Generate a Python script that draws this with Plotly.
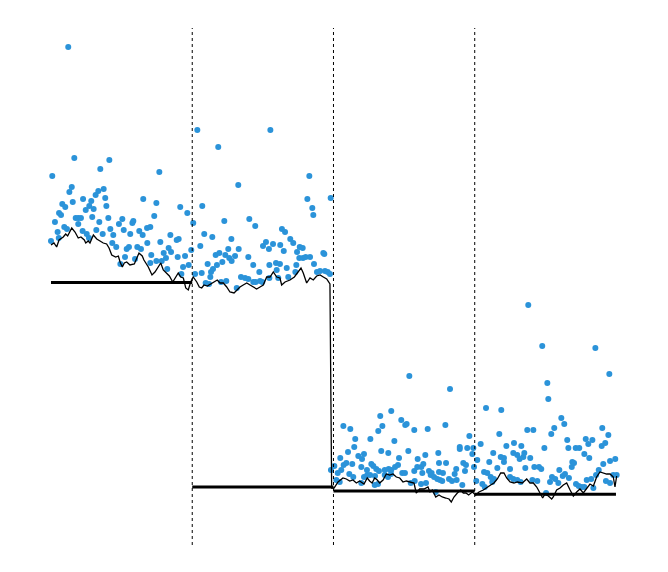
import plotly.graph_objects as go

# observations (time index, value)
obs_t = [
    0, 0.9, 2.8, 4.7, 5.5, 5.7, 7.1, 8.0, 9.4, 10.1, 11.3, 12.2, 13.0, 14.7, 15.4, 16.5,
    17.5, 19.3, 19.3, 21.2, 22.4, 22.7, 24.6, 25.3, 26.9, 27.1, 28.5, 29.2, 30.2, 31.6,
    32.1, 33.5, 34.2, 34.9, 36.6, 37.3, 38.4, 39.2, 40.6, 41.3, 42.0, 43.4, 44.1, 46.2,
    48.1, 49.1, 50.5, 51.5, 52.4, 53.6, 55.2, 56.1, 57.6, 58.3, 59.5, 61.1, 62.5, 63.7,
    65.3, 64.9, 68.0, 68.2, 70.3, 70.3, 71.0, 73.1, 74.6, 74.6, 76.7, 77.4, 78.4, 79.8,
    81.4, 82.3, 83.3, 84.5, 85.0, 89.0, 89.7, 90.4, 91.5, 92.3, 93.5, 94.9, 96.5, 97.5,
    99.3, 100.7, 102.0, 103.6, 105.7, 106.7, 107.1, 108.5, 109.5, 110.9, 111.9, 112.8,
    113.3, 114.2, 114.7, 116.6, 117.5, 118.4, 119.2, 120.4, 121.3, 122.7, 123.4, 124.1,
    125.5, 126.2, 127.7, 127.9, 130.3, 131.5, 132.6, 132.9, 134.5, 137.4, 139.7, 139.7,
    140.4, 143.2, 143.2, 144.6, 144.9, 147.5, 148.0, 149.6, 150.1, 152.2, 154.3, 154.6,
    154.6, 155.3, 157.2, 159.3, 159.8, 160.9, 162.1, 162.3, 163.5, 164.8, 165.7, 166.9,
    168.0, 169.4, 171.5, 173.0, 173.7, 174.2, 175.8, 176.1, 178.2, 178.4, 180.3, 181.5,
    182.9, 183.4, 185.0, 185.7, 186.2, 188.3, 190.5, 192.8, 193.5, 194.0, 195.9, 197.5,
    198.0,
    198.2, 200.6, 202.0, 203.0, 204.4, 204.8, 205.5, 207.0, 207.2, 209.1, 210.3, 211.2,
    211.9, 213.3, 214.0, 214.7, 215.4, 217.6, 219.7, 219.7, 220.2, 221.6, 221.6, 223.7,
    223.9, 225.9, 226.1, 226.8, 228.2, 229.2, 229.4, 230.3, 231.5, 231.7, 232.2, 233.1,
    233.8, 234.6, 236.3, 236.3, 238.6, 238.8, 239.1, 240.7, 240.9, 240.9, 243.1, 243.6,
    245.7, 246.4, 248.0, 248.7, 250.6, 250.8, 251.8, 253.0, 253.7, 254.7, 257.2, 257.2,
    257.5, 259.3, 259.6, 262.0, 262.2, 262.9, 263.6, 265.0, 265.5, 266.7,
    267.6, 268.8, 269.5, 271.2, 272.4, 273.5, 274.2, 274.7, 274.7, 275.4, 277.0, 277.5,
    279.2, 279.7, 281.8, 282.5, 283.9, 285.8, 286.9, 287.2, 289.4, 289.4, 291.2, 291.9,
    293.1, 293.8, 294.7, 296.2, 298.3, 299.0, 299.5, 301.1, 301.8, 304.2, 305.4, 306.6,
    307.1, 308.0, 308.9, 310.3, 311.3, 312.4, 313.1, 313.6, 316.0, 317.4, 318.4, 318.8,
    320.7, 320.7, 322.4, 325.0, 325.0, 327.3, 327.3, 327.8, 330.1, 330.1, 331.8, 332.5,
    333.0,
    334.4, 335.1, 335.8, 337.2, 337.9, 339.3, 340.8, 341.5, 342.2, 344.3, 345.5, 347.1,
    347.8, 349.3, 350.5, 351.4, 352.1, 353.3, 354.2, 354.7, 356.3, 357.0, 359.2, 359.9,
    361.3, 362.3, 363.4, 363.9, 365.5, 366.3, 366.7, 368.7, 369.1, 370.3, 371.5, 371.7,
    373.6, 374.0, 375.7, 377.6, 377.6, 378.6, 379.3, 380.4, 381.1, 382.5, 383.3, 384.0,
    385.4, 385.9, 387.8, 389.9, 390.3, 391.0, 392.4, 392.9, 394.6, 395.3, 395.8, 395.8,
    398.1, 399.5, 400.5,
]
obs_v = [
    24.8, 31.3, 26.7, 25.7, 25.1, 27.6, 27.4, 28.5, 26.2, 28.2, 26.0, 44.2, 29.7, 30.2, 28.7, 33.1,
    27.1, 27.1, 26.5, 27.1, 25.8, 29.0, 27.9, 25.5, 25.1, 28.3, 28.8, 27.2, 28.0, 29.4,
    25.9, 29.8, 26.7, 32.0, 25.5, 30.0, 29.1, 28.3, 27.1, 32.9, 26.0, 24.6, 25.4, 24.2,
    26.5, 22.5, 27.0, 25.9, 23.2, 24.0, 24.2, 25.5, 26.6, 26.8, 23.0, 24.2, 25.8, 24.0,
    29.0, 25.4, 26.1, 24.6, 26.2, 22.6, 23.4, 27.3, 28.6, 22.8, 31.7, 24.7, 22.8, 23.6,
    23.1, 22.0, 24.1, 25.4, 23.7, 24.9, 23.2, 25.0, 28.2, 21.5, 22.2, 23.3, 27.6, 22.4,
    23.9, 26.6, 21.5, 35.9, 24.3, 21.6, 28.3, 25.5, 20.6, 22.5, 20.5, 21.2,
    21.7, 25.2, 22.0, 23.4, 22.4, 34.2, 23.6, 20.7, 22.7, 26.8, 23.4, 20.8,
    24.0, 23.1, 25.0, 22.8, 23.3, 20.1, 30.4, 24.0, 21.2, 21.1, 23.2, 21.0,
    27.0, 22.4, 20.7, 26.3, 20.7, 21.7, 20.8, 20.7, 24.3, 24.7, 24.0, 22.4,
    21.1, 35.9, 24.5, 22.6, 21.9, 21.1, 22.5, 24.4, 26.0, 23.8, 25.7, 22.1,
    21.2, 25.0, 24.6, 21.7, 22.4, 23.7, 23.1, 24.2, 24.1, 23.1, 23.2, 29.0,
    31.3, 23.2, 28.1, 27.4, 22.5, 21.7, 21.8, 23.6, 23.5, 21.8, 21.7, 21.5,
    29.1,
    1.9, 2.3, 0.9, 1.6, 0.7, 3.1, 1.9, 6.3, 2.4, 2.6, 3.7, 1.5,
    6.0, 2.5, 1.2, 4.2, 5.0, 3.3, 2.2, 0.6, 3.0, 3.5, 1.2, 1.9,
    1.4, 1.4, 5.0, 2.5, 2.3, 0.4, 1.3, 2.0, 0.5, 5.8, 1.8, 7.3,
    3.8, 6.3, 1.9, 1.4, 1.2, 3.6, 2.0, 1.5, 7.8, 1.9, 4.8, 2.2,
    2.4, 3.1, 6.9, 1.6, 1.6, 6.4, 6.5, 3.8, 11.3, 0.6, 5.9, 1.8,
    0.8, 2.2, 3.0, 0.5, 2.2, 1.6, 2.5, 3.4, 0.6, 6.0,
    1.8, 1.4, 1.6, 1.2, -0.3, 1.0, 3.6, 2.6, 1.7, 0.9, 0.8, 1.6,
    6.4, 2.6, 1.0, 10.0, 0.8, 1.5, 2.0, 0.9, 4.2, 4.0, 0.4, 2.6,
    1.8, 2.4, 4.1, 5.3, 3.5, 4.1, 2.2, 0.8, 2.9, 4.5, 0.5, 1.7,
    0.2, 8.1, 1.6, 2.7, 1.2, 0.7, 3.6, 1.0, 2.1, 5.5, 3.2, 7.9,
    3.1, 2.7, 4.3, 2.0, 1.2, 3.6, 1.0, 4.6, 3.4, 0.9, 3.0, 0.7,
    4.3,
    3.2, 3.6, 2.1, 5.9, 18.4, 3.1, 0.9, 5.9, 2.2, 0.8, 2.2, 2.0,
    14.3, 4.1, -0.4, 10.6, 9.0, 0.7, 5.5, 1.2, 6.1, 1.0, 0.6, 1.9,
    7.1, 1.3, 6.5, 1.5, 4.9, 4.1, 1.1, 2.2, 2.7, 2.6, 4.1, 0.5,
    0.3, 4.1, 0.2, 3.5, 0.2, 5.0, 0.9, 4.5, 3.1, 1.0, 4.9, 0.1,
    14.1, 1.4, 1.9, 4.3, 6.1, 2.5, 4.6, 0.8, 5.4, 11.5, 2.8, 0.6,
    1.4, 3.0, 1.4,
]

# running estimate (thin black line)
est_t = [
    0, 2.1, 4.0, 5.7, 8.7, 10.4, 11.8, 14.7, 17.0, 19.3, 21.2, 23.6, 24.6, 26.4, 27.6,
    30.0, 32.4, 34.7, 37.0, 39.4, 41.1, 43.0, 45.8, 47.7, 48.9, 50.5, 51.9, 53.6, 55.9,
    59.0, 62.3, 64.6, 65.8, 68.9, 71.5, 73.6, 76.0, 77.7, 79.5, 81.4, 83.8, 86.2, 88.5,
    90.1, 91.8, 93.7, 95.4, 97.2, 98.9, 100.7, 103.2, 105.0, 106.7, 108.3, 110.7, 113.1,
    115.4, 117.7, 119.7, 122.0, 124.4, 126.7, 129.6, 132.6, 133.8, 136.1, 138.6, 140.9,
    143.2, 145.6, 148.0, 150.3, 152.7, 155.1, 157.4, 159.8, 162.1, 163.3, 165.7, 169.2,
    172.3, 175.1, 177.0, 178.6, 181.0, 183.4, 185.7, 188.1, 190.5, 192.8, 195.2, 197.5,
    198.7, 200.4, 203.2, 206.7, 209.1, 211.5, 213.8, 216.2, 218.5, 221.6, 223.9, 225.6,
    227.3, 229.2, 231.0, 232.7, 235.1, 237.4, 239.8, 242.1, 244.5, 246.9, 249.2, 251.6,
    254.7, 257.0, 258.6, 261.0, 263.4, 264.1, 266.9, 268.3, 270.0, 272.4, 274.7, 277.0,
    279.5, 281.8, 283.4, 285.3, 287.7, 290.1, 291.9, 293.8, 295.7, 298.3, 300.7, 303.0,
    306.1, 308.9, 311.3, 313.6, 316.0, 318.4, 320.7, 322.6, 325.0, 327.8, 330.1, 333.7,
    336.8, 339.1, 341.5, 343.9, 346.2, 348.1, 349.8, 352.1, 354.5, 355.6, 358.0, 360.4,
    362.7, 365.1, 367.5, 369.8, 372.2, 374.5, 376.9, 379.3, 381.6, 384.0, 386.3, 388.7,
    391.0, 393.4, 395.8, 398.1, 399.3, 400.5,
]
est_v = [
    24.4, 24.6, 24.2, 24.9, 25.2, 25.5, 25.3, 26.1, 25.7, 25.1, 25.2, 24.9, 24.6, 24.8, 24.6,
    25.4, 25.0, 24.8, 24.6, 24.5, 24.1, 23.4, 23.2, 23.3, 22.7, 22.2, 22.6, 22.7, 22.4,
    22.5, 23.6, 23.3, 22.9, 22.2, 21.4, 21.7, 22.3, 22.6, 21.9, 21.6, 21.3, 20.7, 21.2,
    21.6, 21.2, 21.1, 20.1, 19.9, 20.7, 21.2, 20.7, 20.2, 20.1, 20.4, 20.3, 20.5,
    20.7, 20.9, 20.6, 20.6, 20.2, 19.7, 19.6, 20.1, 20.2, 20.4, 20.6, 20.4,
    20.2, 20.0, 20.2, 20.4, 21.2, 21.2, 21.7, 21.2, 21.1, 20.4, 20.7, 20.9,
    21.2, 21.7, 22.1, 21.6, 20.6, 21.1, 20.9, 21.3, 21.4, 21.2, 21.0, 20.5,
    0.1, 0.1, 0.7, 1.1, 1.0, 0.8, 0.9, 0.6, 0.8, 0.5, 1.1, 0.8,
    0.6, 1.1, 0.9, 0.6, 0.9, 1.5, 1.4, 1.5, 1.2, 1.1, 0.7, 0.8,
    0.7, 0.6, -0.4, 0.0, 0.0, 0.0, 0.2, -0.3, -0.1, -0.8, -0.6, -0.8,
    -0.9, -1.0, -1.3, -0.8, -0.4, -0.1, -0.4, -0.4, -0.6, -0.3, -0.6, -0.3,
    -0.1, 0.2, 0.4, 0.6, 1.0, 1.6, 1.6, 1.1, 0.7, 0.6, 0.7, 0.6,
    1.0, 0.6, 0.6, 0.2, -0.4, -0.9, -0.5, -0.7, -1.0, -0.8, -0.1, 0.1,
    0.4, 0.6, -0.1, -0.7, -0.3, 0.0, -0.4, 0.1, 0.5, 0.3, 1.2, 1.7,
    1.6, 1.5, 1.5, 1.2, 0.2, 1.3,
]

# window levels (thick black segments)
win_start = [0, 100, 200, 300]
win_end = [100, 200, 300, 400]
win_level = [20.65, 0.2, -0.2, -0.53]

breaks = [100, 200, 300]

fig = go.Figure()

fig.add_trace(
    go.Scatter(
        x=obs_t,
        y=obs_v,
        mode="markers",
        marker=dict(color="#2b93d9", size=6, line=dict(width=0)),
        showlegend=False,
    )
)

fig.add_trace(
    go.Scatter(
        x=est_t,
        y=est_v,
        mode="lines",
        line=dict(color="black", width=1.3),
        showlegend=False,
    )
)

for x0, x1, lv in zip(win_start, win_end, win_level):
    fig.add_trace(
        go.Scatter(
            x=[x0, x1],
            y=[lv, lv],
            mode="lines",
            line=dict(color="black", width=3),
            showlegend=False,
        )
    )

for b in breaks:
    fig.add_vline(x=b, line=dict(color="black", width=1, dash="dot"))

# the page body adds an 8px offset, so the plot area is pulled up/left by that much
fig.update_layout(
    width=668,
    height=572,
    margin=dict(l=0, r=0, t=20, b=35),
    paper_bgcolor="white",
    plot_bgcolor="white",
    xaxis=dict(range=[-30.44, 442.5], visible=False),
    yaxis=dict(range=[-5.6, 46.1], visible=False),
)

fig.write_html("out.html")
